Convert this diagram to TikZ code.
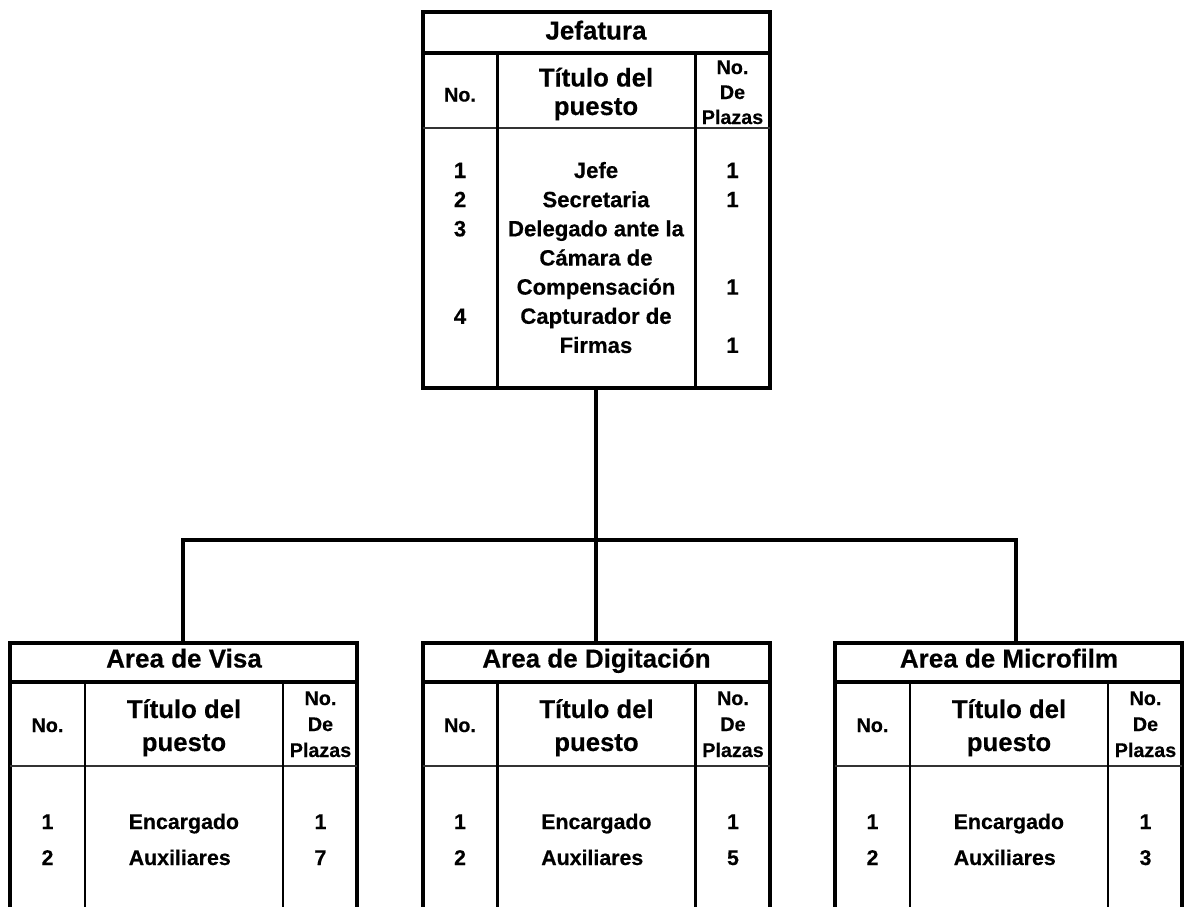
\documentclass[tikz,border=0pt]{standalone}
\usepackage{fontspec}
\setmainfont{Liberation Sans}[BoldFeatures={FakeBold=0.4}]
\usetikzlibrary{fit}

% one unit = one pixel of the final sheet, y grows downwards
\tikzset{
  frame/.style={draw, line width=3pt, inner sep=0pt, outer sep=0pt, rectangle, anchor=center},
  titlerule/.style={line width=3pt},
  colrule/.style={line width=2.2pt},
  headrule/.style={line width=1.3pt, black!80},
  link/.style={line width=2.4pt},
  lbl/.style={inner sep=0pt, anchor=base},
  ttl/.style={lbl, font=\fontsize{19.5}{23}\selectfont\bfseries},
  hbig/.style={lbl, font=\fontsize{19.3}{23}\selectfont\bfseries},
  hsm/.style={lbl, font=\fontsize{14.8}{18}\selectfont\bfseries},
  bdy/.style={lbl, font=\fontsize{16.6}{20}\selectfont\bfseries},
  bdyb/.style={lbl, font=\fontsize{16}{20}\selectfont\bfseries},
}

% table frame: name, left, top, bottom, title rule offset, header rule offset
\newcommand\orgframe[6]{%
  \node[frame, fit={(#2,#3) ({#2+347},#4)}] (#1) {};
  \draw[titlerule] (#2,{#3+#5}) -- ({#2+347},{#3+#5});
  \draw[headrule] (#2,{#3+#6}) -- ({#2+347},{#3+#6});
  \draw[colrule] ({#2+75},{#3+#5}) -- ({#2+75},#4);
  \draw[colrule] ({#2+273},{#3+#5}) -- ({#2+273},#4);
}

% lower area table: name, left, title, number of auxiliaries
\newcommand\areabox[4]{%
  \orgframe{#1}{#2}{643}{930}{39}{123}
  \node[ttl] (#1-t) at ({#2+174},667.5) {#3};
  \node[hsm] (#1-hn) at ({#2+37.5},732) {No.};
  \node[hbig] (#1-h1) at ({#2+174},718) {Título del};
  \node[hbig] (#1-h2) at ({#2+174},751) {puesto};
  \node[hsm] (#1-p1) at ({#2+310.5},705) {No.};
  \node[hsm] (#1-p2) at ({#2+310.5},731) {De};
  \node[hsm] (#1-p3) at ({#2+310.5},757) {Plazas};
  \node[bdyb] (#1-n1) at ({#2+37.5},829) {1};
  \node[bdyb, anchor=base west] (#1-r1) at ({#2+118.5},829) {Encargado};
  \node[bdyb] (#1-c1) at ({#2+310.5},829) {1};
  \node[bdyb] (#1-n2) at ({#2+37.5},865) {2};
  \node[bdyb, anchor=base west] (#1-r2) at ({#2+118.5},865) {Auxiliares};
  \node[bdyb] (#1-c2) at ({#2+310.5},865) {#4};
}

\begin{document}
\begin{tikzpicture}[x=0.75pt, y=-0.75pt]
  \path[use as bounding box, clip] (0,0) rectangle (1186,907);

  % head office table
  \orgframe{jef}{422.5}{12}{388}{41}{116}
  \node[ttl] (jef-t) at (596,39.5) {Jefatura};
  \node[hsm] (jef-hn) at (460,101.5) {No.};
  \node[hbig] (jef-h1) at (596,86.5) {Título del};
  \node[hbig] (jef-h2) at (596,115) {puesto};
  \node[hsm] (jef-p1) at (732.5,74) {No.};
  \node[hsm] (jef-p2) at (732.5,99) {De};
  \node[hsm] (jef-p3) at (732.5,124) {Plazas};

  \node[bdy] (jef-n1) at (460,178) {1};
  \node[bdy] (jef-n2) at (460,207.2) {2};
  \node[bdy] (jef-n3) at (460,236.3) {3};
  \node[bdy] (jef-n4) at (460,323.8) {4};

  \node[bdy] (jef-r1) at (596,178) {Jefe};
  \node[bdy] (jef-r2) at (596,207.2) {Secretaria};
  \node[bdy] (jef-r3) at (596,236.3) {Delegado ante la};
  \node[bdy] (jef-r4) at (596,265.5) {Cámara de};
  \node[bdy] (jef-r5) at (596,294.6) {Compensación};
  \node[bdy] (jef-r6) at (596,323.8) {Capturador de};
  \node[bdy] (jef-r7) at (596,352.9) {Firmas};

  \node[bdy] (jef-c1) at (732.5,178) {1};
  \node[bdy] (jef-c2) at (732.5,207.2) {1};
  \node[bdy] (jef-c3) at (732.5,294.6) {1};
  \node[bdy] (jef-c4) at (732.5,352.9) {1};

  % area tables
  \areabox{visa}{10}{Area de Visa}{7}
  \areabox{dig}{422.5}{Area de Digitación}{5}
  \areabox{mic}{835}{Area de Microfilm}{3}

  % connectors
  \coordinate (busL) at (183,540);
  \coordinate (busR) at (1016,540);
  \draw[link] (jef.south) -- (dig.north);
  \draw[link] (busL |- visa.north) -- (busL) -- (busR) -- (busR |- mic.north);
\end{tikzpicture}
\end{document}
